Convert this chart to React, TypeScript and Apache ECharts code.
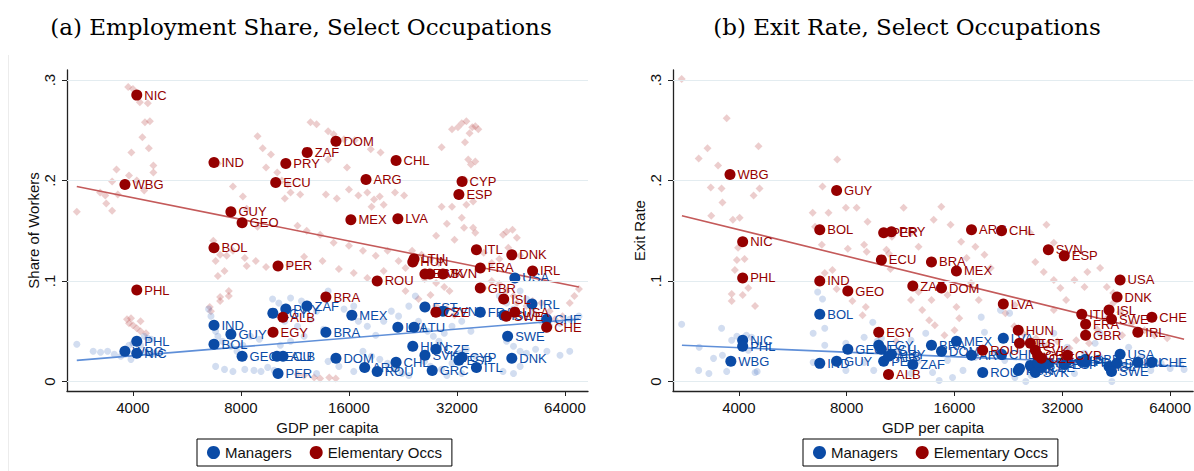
import React, { useEffect, useRef } from "react";
import * as echarts from "echarts";

// ---------- data ----------
const xTickGdp = [4000, 8000, 16000, 32000, 64000];
const yTickVals = [0, 0.1, 0.2, 0.3];
const X_MIN_GDP = 2620;
const X_MAX_GDP = 74200;

// Panel (a): Employment share — labeled country averages [code, gdp, share]
const aElem: [string, number, number][] = [
  ["NIC", 4100, 0.285], ["IND", 6730, 0.218], ["WBG", 3800, 0.196], ["GUY", 7500, 0.169],
  ["GEO", 8060, 0.158], ["BOL", 6730, 0.133], ["PRY", 10670, 0.217], ["ECU", 10000, 0.198],
  ["DOM", 14720, 0.239], ["ZAF", 12240, 0.228], ["CHL", 21650, 0.22], ["ARG", 17850, 0.201],
  ["CYP", 33070, 0.199], ["ESP", 32400, 0.186], ["MEX", 16200, 0.161], ["LVA", 21900, 0.162],
  ["ITL", 36260, 0.131], ["DNK", 45500, 0.126], ["PHL", 4100, 0.091], ["PER", 10150, 0.115],
  ["EGY", 9830, 0.049], ["ALB", 10470, 0.064], ["BRA", 13800, 0.084], ["ROU", 19180, 0.1],
  ["LTU", 24300, 0.122], ["HUN", 24100, 0.119], ["EST", 26060, 0.107], ["SVK", 26900, 0.107],
  ["SVN", 29250, 0.107], ["CZE", 27960, 0.069], ["FRA", 37170, 0.113], ["IRL", 52000, 0.11],
  ["GBR", 37170, 0.093], ["ISL", 43200, 0.082], ["USA", 46400, 0.069], ["SWE", 43900, 0.065],
  ["CHE", 56900, 0.054],
];
const aMgr: [string, number, number][] = [
  ["PHL", 4100, 0.04], ["WBG", 3800, 0.03], ["NIC", 4100, 0.028], ["IND", 6730, 0.056],
  ["GUY", 7500, 0.047], ["BOL", 6730, 0.037], ["GEO", 8060, 0.025], ["PER", 10150, 0.008],
  ["EGY", 9820, 0.068], ["PRY", 10670, 0.072], ["ZAF", 12220, 0.075], ["ECU", 10080, 0.025],
  ["ALB", 10480, 0.025], ["BRA", 13800, 0.049], ["MEX", 16300, 0.066], ["DOM", 14720, 0.023],
  ["ARG", 17700, 0.014], ["ROU", 19180, 0.01], ["CHL", 21650, 0.019], ["LVA", 21900, 0.054],
  ["LTU", 24300, 0.054], ["HUN", 24100, 0.035], ["EST", 26060, 0.074], ["SVK", 26060, 0.026],
  ["CZE", 27960, 0.032], ["GRC", 27300, 0.011], ["CYP", 33070, 0.024], ["ESP", 32400, 0.021],
  ["SVN", 29250, 0.07], ["FRA", 37170, 0.069], ["ITL", 36260, 0.014], ["USA", 46400, 0.103],
  ["IRL", 51800, 0.077], ["ISL", 43200, 0.066], ["SWE", 44300, 0.045], ["DNK", 45500, 0.023],
  ["CHE", 56900, 0.062],
];
// Panel (b): Exit rate — labeled country averages [code, gdp, rate]
const bElem: [string, number, number][] = [
  ["WBG", 3780, 0.206], ["GUY", 7500, 0.19], ["BOL", 6730, 0.151], ["NIC", 4100, 0.139],
  ["PHL", 4100, 0.103], ["IND", 6730, 0.1], ["GEO", 8060, 0.09], ["ECU", 10000, 0.121],
  ["PER", 10150, 0.148], ["PRY", 10670, 0.149], ["EGY", 9830, 0.049], ["ALB", 10470, 0.007],
  ["ARG", 17850, 0.151], ["CHL", 21650, 0.15], ["BRA", 13800, 0.119], ["MEX", 16200, 0.11],
  ["ZAF", 12240, 0.095], ["DOM", 14720, 0.093], ["SVN", 29250, 0.131], ["ESP", 32400, 0.125],
  ["USA", 46400, 0.101], ["DNK", 45500, 0.084], ["ISL", 43200, 0.071], ["SWE", 43900, 0.062],
  ["ITL", 36260, 0.067], ["FRA", 37170, 0.057], ["GBR", 37170, 0.046], ["CHE", 56900, 0.064],
  ["IRL", 52000, 0.049], ["LVA", 21900, 0.077], ["HUN", 24100, 0.051], ["ROU", 19180, 0.031],
  ["LTU", 24300, 0.038], ["EST", 26060, 0.038], ["SVK", 26900, 0.031], ["CZE", 27960, 0.023],
  ["GRC", 27300, 0.026], ["CYP", 33070, 0.026],
];
const bMgr: [string, number, number][] = [
  ["BOL", 6730, 0.067], ["NIC", 4100, 0.041], ["PHL", 4100, 0.035], ["WBG", 3800, 0.02],
  ["IND", 6730, 0.018], ["GUY", 7500, 0.02], ["GEO", 8060, 0.032], ["EGY", 9830, 0.036],
  ["ECU", 10000, 0.032], ["PRY", 10670, 0.027], ["PER", 10150, 0.02], ["ALB", 10470, 0.025],
  ["ZAF", 12240, 0.017], ["BRA", 13800, 0.036], ["DOM", 14720, 0.03], ["MEX", 16200, 0.04],
  ["ARG", 17850, 0.026], ["ROU", 19180, 0.009], ["LVA", 21900, 0.043], ["CHL", 21650, 0.027],
  ["HUN", 24100, 0.011], ["LTU", 24300, 0.013], ["EST", 26060, 0.016], ["SVK", 26900, 0.009],
  ["CZE", 27960, 0.014], ["SVN", 29250, 0.018], ["GRC", 27300, 0.019], ["CYP", 33070, 0.021],
  ["ESP", 32400, 0.017], ["ITL", 36260, 0.02], ["FRA", 37170, 0.019], ["GBR", 37170, 0.022],
  ["ISL", 43200, 0.015], ["DNK", 45500, 0.018], ["USA", 46400, 0.027], ["SWE", 43900, 0.01],
  ["IRL", 52000, 0.019], ["CHE", 56900, 0.019],
];

// Fitted lines [gdp, value]
const aElemFit: [number, number][] = [[2790, 0.194], [70000, 0.094]];
const aMgrFit: [number, number][] = [[2790, 0.021], [70000, 0.062]];
const bElemFit: [number, number][] = [[2775, 0.165], [70000, 0.042]];
const bMgrFit: [number, number][] = [[2775, 0.036], [70000, 0.015]];

// Faint country-year observations [gdp, value]
const aElemBg: [number, number][] = [
  [2790, .169], [3880, .293], [4000, .291], [4180, .278], [4400, .277], [4320, .258], [4460, .259], [4250, .243], [4430, .232], [3960, .228], [4560, .215], [4560, .208], [3600, .211], [3500, .199], [3240, .188], [3350, .185], [3370, .177], [3500, .170], [3630, .186], [3900, .205], [4100, .200], [4300, .190],
  [4200, .060], [3950, .063], [3900, .058], [4000, .056], [4100, .053], [4200, .050], [4350, .048], [3850, .062],
  [6650, .219], [6900, .217], [7600, .194], [8100, .184], [8300, .172], [8900, .154], [6700, .140], [6800, .120], [7000, .126], [7300, .125], [7600, .130], [8200, .123], [8800, .120], [6900, .105], [7200, .110], [7400, .090], [6600, .070], [7000, .080], [7400, .085], [8300, .115], [9400, .114], [10900, .116], [6550, .074], [7000, .084],
  [8900, .244], [9200, .232], [9700, .226], [9400, .213], [10100, .208], [10400, .200], [10800, .196], [11000, .188], [10600, .182], [11700, .186], [12500, .258], [13000, .256], [14000, .249], [14500, .246], [15500, .241], [16600, .240], [18400, .231], [19600, .228], [14000, .221], [15800, .213], [16000, .191], [17000, .185], [18000, .188], [18800, .181], [19500, .184], [18500, .174], [20000, .176], [21500, .188], [22800, .185], [13800, .186], [14800, .182],
  [11500, .155], [12200, .150], [13300, .146], [14500, .138], [16000, .135], [17500, .130], [19000, .125], [20500, .130], [22000, .120], [23000, .113], [24500, .118], [12000, .124], [13500, .120], [15000, .112], [16500, .108], [18000, .103], [20000, .110],
  [12000, .006], [12800, .004], [13300, .003], [14100, .004], [14700, .003], [11500, .007],
  [31000, .251], [32200, .253], [33000, .257], [34000, .259], [35300, .253], [36000, .254], [36700, .251], [34700, .247], [33700, .238], [29000, .233], [34400, .221], [36000, .219], [35000, .216], [33600, .201], [34000, .176], [35500, .179], [31000, .174], [29000, .174], [33000, .163], [33500, .153], [35500, .153], [30000, .157], [28000, .145], [31500, .141], [36000, .148],
  [43000, .146], [44000, .149], [45700, .151], [47000, .143], [44500, .133], [48000, .125], [42000, .122], [40000, .118], [38000, .128],
  [40000, .100], [42000, .097], [38000, .093], [44000, .090], [46000, .085], [47000, .078], [50000, .075], [52000, .080], [55000, .078], [58000, .070], [60000, .062], [63000, .065], [68000, .085], [70000, .092], [66000, .078],
  [24000, .130], [25500, .126], [27000, .122], [28500, .118], [26000, .102], [28000, .098], [29500, .094], [30500, .090], [27000, .086], [25000, .082], [23000, .090], [28000, .075], [30000, .072], [31500, .066],
];
const aMgrBg: [number, number][] = [
  [2790, .037], [3100, .030], [3250, .029], [3400, .030], [3550, .027], [3700, .025], [3800, .032], [3900, .036], [4000, .038], [4100, .041], [4300, .045], [4400, .043], [4500, .042], [4200, .036], [4350, .030], [4500, .027], [4600, .028], [3950, .022], [3750, .028],
  [6500, .072], [6600, .065], [6800, .050], [6900, .045], [7100, .040], [7500, .035], [7800, .030], [8100, .036], [8500, .045], [9000, .042], [6800, .015], [7200, .012], [7600, .010], [8200, .012], [8700, .011], [9100, .010], [9500, .014], [9900, .011],
  [9800, .082], [10200, .078], [11000, .083], [11800, .080], [10600, .060], [11500, .055], [12500, .062], [13000, .070], [12000, .045], [11000, .040], [10300, .036], [13600, .052],
  [14000, .090], [15500, .072], [16500, .075], [17000, .060], [18000, .055], [19000, .046], [20000, .060], [21000, .070], [22000, .065], [23500, .075], [24500, .085], [17500, .030], [18500, .025], [19500, .022], [20500, .018], [21500, .012], [22500, .008], [23500, .006], [16500, .010], [15000, .015], [14000, .020], [13000, .008],
  [25000, .060], [26500, .050], [27500, .045], [28500, .040], [29500, .048], [31000, .055], [33000, .060], [35000, .050], [26000, .020], [27000, .015], [29000, .012], [31000, .018], [32500, .028], [34000, .032], [36000, .025], [30000, .006], [33000, .008],
  [42000, .085], [44000, .078], [46000, .072], [48000, .090], [50000, .082], [52000, .068], [55000, .060], [58000, .055], [62000, .058], [66000, .062], [70000, .065], [44000, .040], [46000, .035], [48000, .030], [50000, .028], [53000, .032], [57000, .030], [62000, .026], [66000, .030], [43000, .010], [46000, .008], [48000, .015],
];
const bElemBg: [number, number][] = [
  [2770, .301], [3700, .262], [3270, .232], [3090, .222], [3500, .215], [4540, .234], [3340, .193], [3580, .192], [4570, .192], [4400, .185], [3600, .178], [3350, .165], [4020, .163], [3850, .161], [3980, .133], [4150, .122], [3950, .121], [3900, .111], [4250, .093], [3820, .087], [4100, .086], [3820, .080], [4440, .075],
  [6430, .168], [6850, .194], [7120, .168], [7530, .221], [7960, .173], [8530, .173], [9150, .159], [8060, .132], [6820, .136], [6530, .154], [6950, .108], [7300, .111], [7500, .092], [8300, .080], [9050, .074], [8860, .066], [9100, .129], [8950, .136],
  [10330, .131], [10500, .127], [10600, .112], [10700, .144],
  [11540, .173], [12120, .148], [12700, .134], [14000, .161], [14700, .174], [15600, .156], [16700, .139], [17300, .123], [18300, .134], [19400, .126], [20200, .113], [17800, .098], [15300, .086], [13800, .081], [13000, .071], [12100, .081], [12700, .089], [16200, .074], [18700, .081], [22200, .068], [23600, .076],
  [26000, .148], [28900, .156], [30300, .138], [26900, .119], [28400, .109], [30300, .101], [31600, .093], [32800, .081], [30300, .071], [34600, .101], [37600, .109], [36900, .094], [40800, .113], [44400, .078], [46400, .069], [42600, .063], [50000, .058], [54300, .051], [57900, .046], [62800, .043], [42600, .094], [44400, .088],
  [13600, .061], [14100, .056], [16000, .051], [16500, .063], [15000, .046], [10000, .034], [11000, .040],
  [22000, .045], [23500, .055], [25000, .047], [27000, .043], [29000, .036], [31000, .040], [33500, .033], [35000, .041], [38000, .038], [40000, .052], [47000, .046],
];
const bMgrBg: [number, number][] = [
  [2770, .057], [3580, .053], [3090, .011], [3300, .008], [3700, .010], [3400, .023], [3600, .026], [3820, .041], [3950, .045], [4200, .046], [4340, .044], [4440, .009], [4500, .010], [3100, .034], [4250, .031],
  [6640, .089], [6850, .082], [6950, .053], [6450, .048], [6950, .036], [7960, .038], [7960, .011], [6450, .019], [8950, .044], [9460, .059], [9730, .040], [9520, .011], [8950, .019],
  [10000, .043], [12100, .041], [13300, .048], [13900, .009], [14500, .001], [15800, .004], [16900, .011], [16400, .041], [19000, .064], [21500, .071], [19400, .049], [22800, .068], [23600, .004], [25300, .000], [26200, .006], [28000, .038], [30300, .048], [33000, .034], [34600, .008], [36900, .028], [39500, .038], [40800, .048], [44000, .000], [46400, .024], [49000, .034], [53000, .024], [56500, .011], [60400, .018], [64000, .013],
  [10400, .024], [11100, .031], [12700, .021], [15300, .021], [18300, .024], [20800, .029], [22100, .021], [28400, .024], [31600, .021], [40800, .024], [12100, .008], [68000, .020], [70000, .012],
];

const titles = ["(a) Employment Share, Select Occupations", "(b) Exit Rate, Select Occupations"];
const yNames = ["Share of Workers", "Exit Rate"];
const xName = "GDP per capita";
const legendNames = ["Managers", "Elementary Occs"];

// ---------- style ----------
const BLUE = "#0b4ba6";
const RED = "#950000";
const SANS = "'Liberation Sans', Arial, sans-serif";
const SERIF = "'DejaVu Serif', 'Liberation Serif', serif";
const GRID_LEFTS = [67, 673];
const GRID_TOP = 70;
const GRID_W = 521;
const GRID_H = 321;

const toU = (g: number) => Math.log2(g / 4000);

function buildOption() {
  const grids: any[] = [];
  const xAxes: any[] = [];
  const yAxes: any[] = [];
  const series: any[] = [];
  const panels = [
    { elem: aElem, mgr: aMgr, elemBg: aElemBg, mgrBg: aMgrBg, elemFit: aElemFit, mgrFit: aMgrFit },
    { elem: bElem, mgr: bMgr, elemBg: bElemBg, mgrBg: bMgrBg, elemFit: bElemFit, mgrFit: bMgrFit },
  ];
  panels.forEach((p, i) => {
    grids.push({ left: GRID_LEFTS[i], top: GRID_TOP, width: GRID_W, height: GRID_H, containLabel: false });
    xAxes.push({
      type: "value", gridIndex: i, position: "bottom", min: toU(X_MIN_GDP), max: toU(X_MAX_GDP),
      name: xName, nameLocation: "middle", nameGap: 22,
      nameTextStyle: { fontFamily: SANS, fontSize: 15, color: "#111" },
      axisLine: { show: true, onZero: false, lineStyle: { color: "#222", width: 1.3 } },
      axisTick: { show: true, length: 5, customValues: xTickGdp.map(toU), lineStyle: { color: "#222" } },
      axisLabel: {
        customValues: xTickGdp.map(toU), margin: 9, fontFamily: SANS, fontSize: 15, color: "#111",
        formatter: (v: number) => String(Math.round(4000 * Math.pow(2, v))),
      },
      splitLine: { show: false },
    });
    yAxes.push({
      type: "value", gridIndex: i, position: "left", min: -0.0095, max: 0.31,
      name: yNames[i], nameLocation: "middle", nameGap: 26,
      nameTextStyle: { fontFamily: SANS, fontSize: 15, color: "#111" },
      axisLine: { show: true, onZero: false, lineStyle: { color: "#222", width: 1.3 } },
      axisTick: { show: true, length: 5, customValues: yTickVals, lineStyle: { color: "#222" } },
      axisLabel: {
        customValues: yTickVals, rotate: 90, margin: 10, fontFamily: SANS, fontSize: 15, color: "#111",
        formatter: (v: number) => (Math.abs(v) < 1e-9 ? "0" : "." + Math.round(v * 10)),
      },
      splitLine: { show: false },
    });
    // gridlines
    series.push({
      type: "scatter", xAxisIndex: i, yAxisIndex: i, data: [], silent: true, z: 0,
      markLine: {
        silent: true, symbol: ["none", "none"], label: { show: false }, animation: false,
        lineStyle: { color: "#e3ecf0", width: 1.2, type: "solid" },
        data: yTickVals.map((v) => ({ yAxis: v })),
      },
    });
    series.push({
      type: "scatter", name: "bgElem", xAxisIndex: i, yAxisIndex: i, symbol: "diamond", symbolSize: 8,
      silent: true, z: 1, itemStyle: { color: "#b84545", opacity: 0.27 },
      data: p.elemBg.map(([g, v]) => [toU(g), v]),
    });
    series.push({
      type: "scatter", name: "bgMgr", xAxisIndex: i, yAxisIndex: i, symbol: "circle", symbolSize: 7,
      silent: true, z: 1, itemStyle: { color: "#4a78c4", opacity: 0.25 },
      data: p.mgrBg.map(([g, v]) => [toU(g), v]),
    });
    series.push({
      type: "line", name: "fitElem", xAxisIndex: i, yAxisIndex: i, symbol: "none", silent: true, z: 2,
      lineStyle: { color: "#c45a5a", width: 1.6 }, data: p.elemFit.map(([g, v]) => [toU(g), v]),
    });
    series.push({
      type: "line", name: "fitMgr", xAxisIndex: i, yAxisIndex: i, symbol: "none", silent: true, z: 2,
      lineStyle: { color: "#5f8fd8", width: 1.6 }, data: p.mgrFit.map(([g, v]) => [toU(g), v]),
    });
    const bold = (name: string, rows: [string, number, number][], color: string, z: number) => ({
      type: "scatter", name, xAxisIndex: i, yAxisIndex: i, symbol: "circle", symbolSize: 11,
      silent: true, z, itemStyle: { color, opacity: 1 },
      data: rows.map(([c, g, v]) => ({ name: c, value: [toU(g), v] })),
      label: {
        show: true, position: "right", distance: 2, formatter: "{b}", color,
        fontFamily: SANS, fontSize: 13,
      },
      labelLayout: { hideOverlap: false },
    });
    series.push(bold(legendNames[0], p.mgr, BLUE, 4));
    series.push(bold(legendNames[1], p.elem, RED, 5));
  });

  const legendBase = {
    top: 439, orient: "horizontal", data: legendNames, icon: "circle", itemWidth: 13, itemHeight: 13,
    itemGap: 18, selectedMode: false, borderColor: "#000", borderWidth: 1, padding: [6, 10],
    textStyle: { fontFamily: SANS, fontSize: 15, color: "#111" },
  };

  return {
    animation: false,
    backgroundColor: "#fff",
    grid: grids,
    xAxis: xAxes,
    yAxis: yAxes,
    series,
    legend: [
      { ...legendBase, left: 197 },
      { ...legendBase, left: 803 },
    ],
    graphic: [
      {
        type: "line", silent: true,
        shape: { x1: 8.5, y1: 55, x2: 8.5, y2: 471 },
        style: { stroke: "#ececec", lineWidth: 1 },
      },
      {
        type: "text", x: 301, y: 27, silent: true,
        style: { text: titles[0], align: "center", verticalAlign: "middle", textAlign: "center", textVerticalAlign: "middle", fontFamily: SERIF, fontSize: 23, fill: "#000" },
      },
      {
        type: "text", x: 907, y: 27, silent: true,
        style: { text: titles[1], align: "center", verticalAlign: "middle", textAlign: "center", textVerticalAlign: "middle", fontFamily: SERIF, fontSize: 23, fill: "#000" },
      },
    ],
  };
}

export default function App() {
  const ref = useRef<HTMLDivElement>(null);
  useEffect(() => {
    if (!ref.current) return;
    const chart = echarts.init(ref.current, undefined, { renderer: "svg" });
    chart.setOption(buildOption() as any);
    return () => chart.dispose();
  }, []);
  return (
    <div
      ref={ref}
      style={{ position: "absolute", left: 0, top: 0, width: 1194, height: 471, background: "#fff" }}
    />
  );
}
